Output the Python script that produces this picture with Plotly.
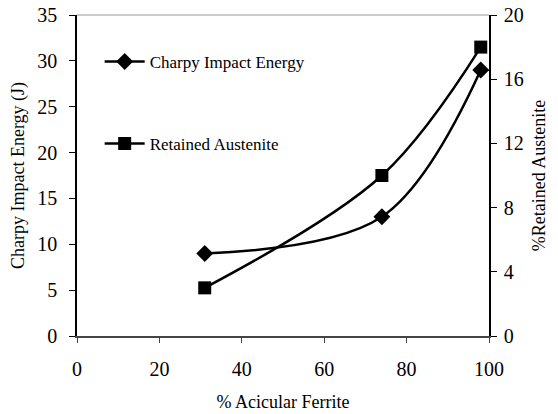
import plotly.graph_objects as go

ferrite = [31, 74, 98]
charpy = [9, 13, 29]
austenite = [3, 10, 18]

x_ticks = [0, 20, 40, 60, 80, 100]
y_ticks = [0, 5, 10, 15, 20, 25, 30, 35]
y2_ticks = [0, 4, 8, 12, 16, 20]

font = "Liberation Serif"

fig = go.Figure()
fig.add_trace(go.Scatter(
    x=ferrite, y=charpy, name="Charpy Impact Energy", legendgroup="a",
    mode="lines+markers", line=dict(color="black", width=2.5, shape="spline", smoothing=1),
    marker=dict(symbol="diamond", size=13, color="black"), yaxis="y"))
fig.add_trace(go.Scatter(
    x=ferrite, y=austenite, name="Retained Austenite", legendgroup="b",
    mode="lines+markers", line=dict(color="black", width=2.5, shape="spline", smoothing=1),
    marker=dict(symbol="square", size=13, color="black"), yaxis="y2"))

fig.update_layout(
    width=558, height=414,
    margin=dict(l=77, r=69, t=15, b=78, autoexpand=False),
    plot_bgcolor="white", paper_bgcolor="white",
    font=dict(family=font, color="black", size=18),
    showlegend=True,
    legend=dict(x=0.055, y=0.91, xanchor="left", yanchor="top",
                bgcolor="rgba(0,0,0,0)", font=dict(size=17, family=font),
                tracegroupgap=57, itemwidth=40),
    xaxis=dict(range=[0, 100], tickvals=x_ticks, ticks="outside", ticklen=5,
               automargin=False,
               showgrid=False, zeroline=False, showline=True, linecolor="#444",
               linewidth=1.5, tickcolor="#444", ticklabelstandoff=9,
               tickfont=dict(size=20, family=font, color="black"),
               title=dict(text="% Acicular Ferrite", font=dict(size=18, family=font), standoff=17)),
    yaxis=dict(range=[0, 35], tickvals=y_ticks, ticks="outside", ticklen=6,
               automargin=False,
               showgrid=False, zeroline=False, showline=True, linecolor="black",
               linewidth=1.5, tickcolor="black", ticklabelstandoff=8,
               tickfont=dict(size=20, family=font, color="black"),
               title=dict(text="Charpy Impact Energy (J)", font=dict(size=18, family=font), standoff=8)),
    yaxis2=dict(range=[0, 20], tickvals=y2_ticks, ticks="outside", ticklen=6,
                automargin=False,
                overlaying="y", side="right", anchor="x",
                showgrid=False, zeroline=False, showline=True, linecolor="black",
                linewidth=1.5, tickcolor="black", ticklabelstandoff=3,
                tickfont=dict(size=20, family=font, color="black"),
                title=dict(text="%Retained Austenite", font=dict(size=18, family=font), standoff=10)),
    shapes=[dict(type="line", xref="paper", yref="paper", x0=0, x1=1, y0=1, y1=1,
                 line=dict(color="#999", width=1))],
)

fig.write_html("out.html")
